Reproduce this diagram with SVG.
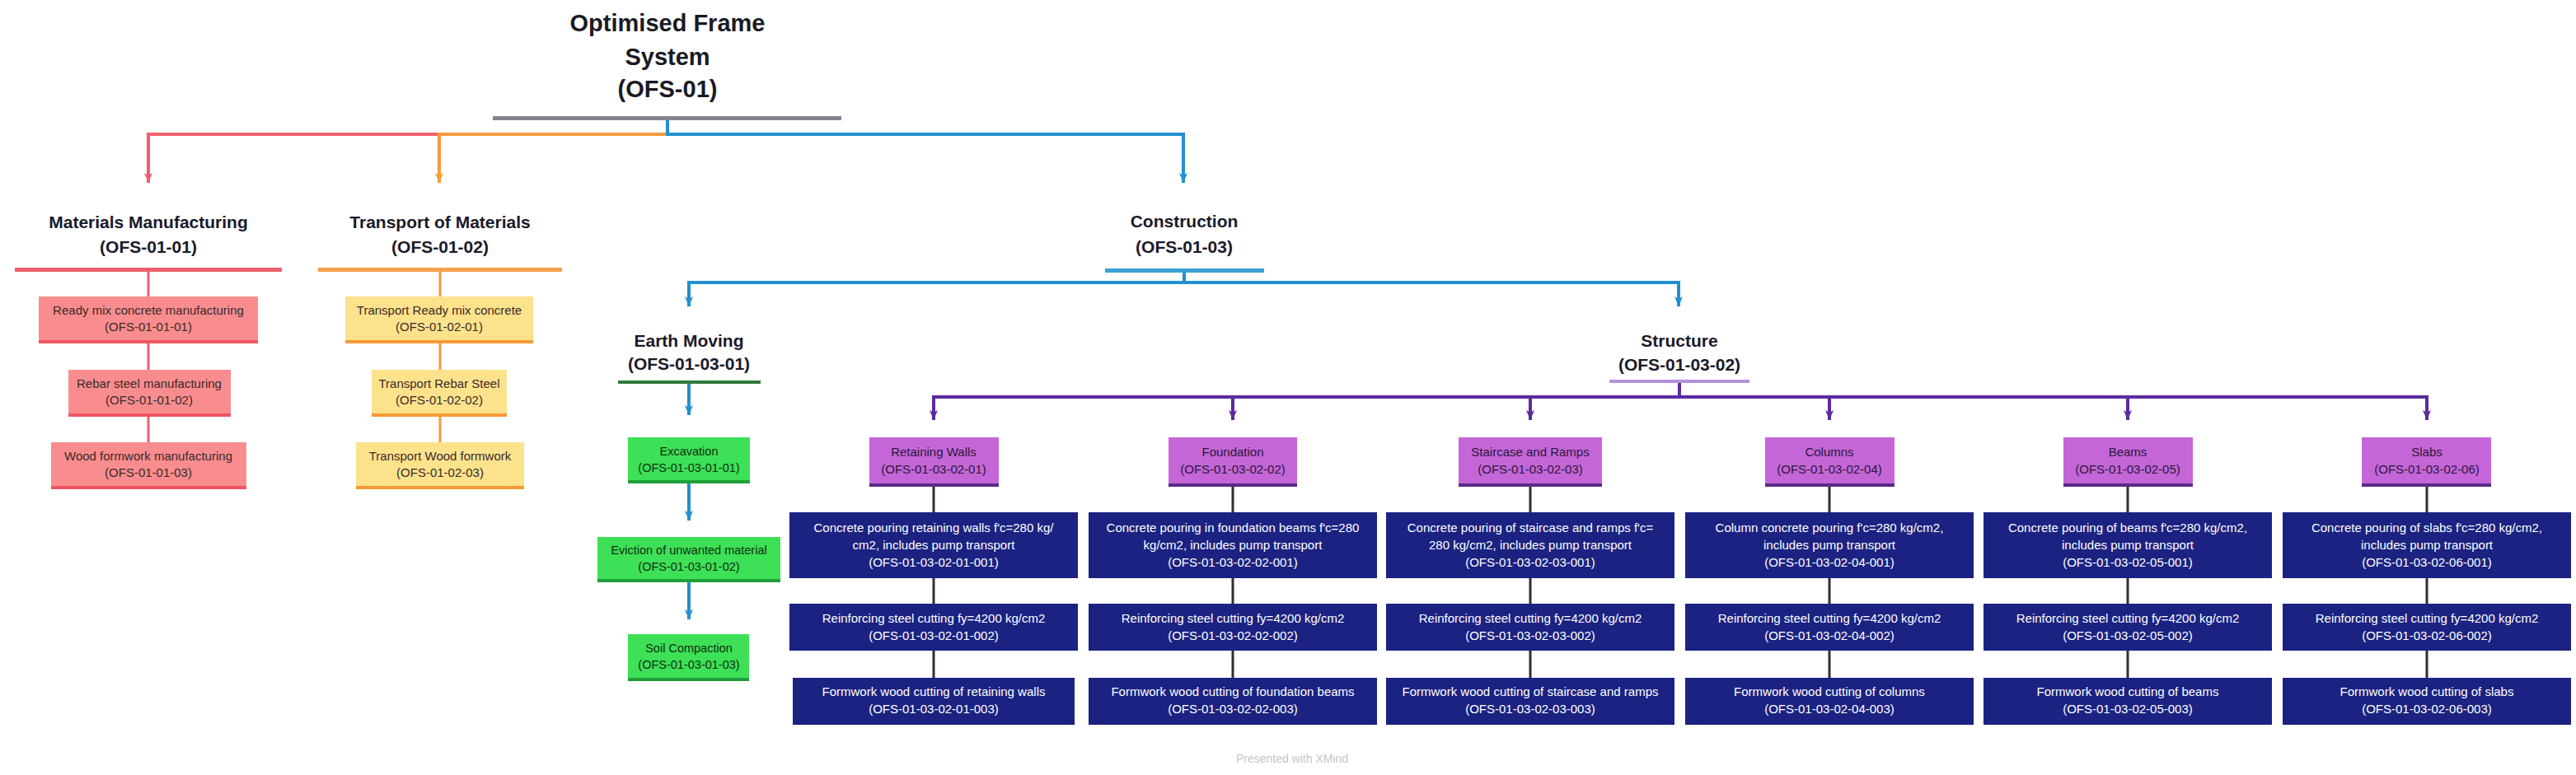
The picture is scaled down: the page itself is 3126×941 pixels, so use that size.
<svg xmlns="http://www.w3.org/2000/svg" width="3126" height="941" viewBox="0 0 3126 941">
<defs>
<style>
text{font-family:"Liberation Sans",Arial,sans-serif;text-anchor:middle}
.h0{font-size:29px;font-weight:bold;fill:#1a1a24}
.h1{font-size:21px;font-weight:bold;fill:#1a1a2a}
.sm{font-size:15px;fill:#3a2a2a}
.hd{font-size:15px;fill:#2a1838}
.gr{font-size:14.5px;fill:#10300f}
.dk{font-size:15px;fill:#ffffff}
.foot{font-size:14px;fill:#c4c4c4}
.red{fill:#f98c8e}
.redb{fill:#ee5560}
.yel{fill:#fde28c}
.yelb{fill:#f59a35}
.grn{fill:#3de057}
.grnb{fill:#20a03a}
.pur{fill:#c466d8}
.purb{fill:#5a2a88}
.nav{fill:#1c2282}
.c-red{stroke:#f0606a;stroke-width:4;fill:none}
.c-org{stroke:#f59a3c;stroke-width:4;fill:none}
.c-blu{stroke:#2290d0;stroke-width:4;fill:none}
.c-pur{stroke:#5e2aa0;stroke-width:4;fill:none}
.c-dk{stroke:#2e2e3c;stroke-width:3;fill:none}
.c-redt{stroke:#f0606a;stroke-width:3;fill:none}
.c-orgt{stroke:#f59a3c;stroke-width:3;fill:none}
</style>
<marker id="aRed" viewBox="0 0 12 10" refX="12" refY="5" markerWidth="12" markerHeight="10" markerUnits="userSpaceOnUse" orient="auto"><path d="M0,0 L12,5 L0,10 L3,5 z" fill="#f0606a"/></marker>
<marker id="aOrg" viewBox="0 0 12 10" refX="12" refY="5" markerWidth="12" markerHeight="10" markerUnits="userSpaceOnUse" orient="auto"><path d="M0,0 L12,5 L0,10 L3,5 z" fill="#f59a3c"/></marker>
<marker id="aBlu" viewBox="0 0 12 10" refX="12" refY="5" markerWidth="12" markerHeight="10" markerUnits="userSpaceOnUse" orient="auto"><path d="M0,0 L12,5 L0,10 L3,5 z" fill="#2290d0"/></marker>
<marker id="aPur" viewBox="0 0 12 10" refX="12" refY="5" markerWidth="12" markerHeight="10" markerUnits="userSpaceOnUse" orient="auto"><path d="M0,0 L12,5 L0,10 L3,5 z" fill="#5e2aa0"/></marker>
</defs>
<rect width="3126" height="941" fill="#ffffff"/>

<g id="connectors">
<path class="c-blu" d="M810,146 V163"/>
<path class="c-red" d="M533,163 H180 V222" marker-end="url(#aRed)"/>
<path class="c-org" d="M810,163 H533 V222" marker-end="url(#aOrg)"/>
<path class="c-blu" d="M808,163 H1436 V222" marker-end="url(#aBlu)"/>
<path class="c-redt" d="M180,329 V360 M180,417 V449 M180,506 V537"/>
<path class="c-orgt" d="M534,329 V360 M534,417 V449 M534,506 V537"/>
<path class="c-blu" d="M1437,330 V343"/>
<path class="c-blu" d="M1437,343 H836 V372" marker-end="url(#aBlu)"/>
<path class="c-blu" d="M1437,343 H2037 V372" marker-end="url(#aBlu)"/>
<path class="c-blu" d="M836,466 V504" marker-end="url(#aBlu)"/>
<path class="c-blu" d="M836,587 V632" marker-end="url(#aBlu)"/>
<path class="c-blu" d="M836,707 V752" marker-end="url(#aBlu)"/>
<path class="c-pur" d="M2038,465 V482"/>
<path class="c-pur" d="M1131,482 H2947"/>
<path class="c-pur" d="M1133,482 V510" marker-end="url(#aPur)"/>
<path class="c-pur" d="M1496,482 V510" marker-end="url(#aPur)"/>
<path class="c-pur" d="M1857,482 V510" marker-end="url(#aPur)"/>
<path class="c-pur" d="M2220,482 V510" marker-end="url(#aPur)"/>
<path class="c-pur" d="M2582,482 V510" marker-end="url(#aPur)"/>
<path class="c-pur" d="M2945,482 V510" marker-end="url(#aPur)"/>
<path class="c-dk" d="M1133,591 V622 M1133,702 V733 M1133,790 V823"/>
<path class="c-dk" d="M1496,591 V622 M1496,702 V733 M1496,790 V823"/>
<path class="c-dk" d="M1857,591 V622 M1857,702 V733 M1857,790 V823"/>
<path class="c-dk" d="M2220,591 V622 M2220,702 V733 M2220,790 V823"/>
<path class="c-dk" d="M2582,591 V622 M2582,702 V733 M2582,790 V823"/>
<path class="c-dk" d="M2945,591 V622 M2945,702 V733 M2945,790 V823"/>
</g>

<g id="n-root">
<text class="h0" x="810" y="38">Optimised Frame</text>
<text class="h0" x="810" y="79">System</text>
<text class="h0" x="810" y="118">(OFS-01)</text>
<rect x="598" y="141" width="423" height="5" fill="#85858f"/>
</g>

<g id="n-mat">
<text class="h1" x="180" y="277">Materials Manufacturing</text>
<text class="h1" x="180" y="307">(OFS-01-01)</text>
<rect x="18" y="325" width="324" height="5" fill="#f0606a"/>
</g>
<g id="n-mat-1"><rect class="red" x="47" y="360" width="266" height="57"/><rect class="redb" x="47" y="413" width="266" height="4"/>
<text class="sm" x="180" y="382">Ready mix concrete manufacturing</text><text class="sm" x="180" y="402">(OFS-01-01-01)</text></g>
<g id="n-mat-2"><rect class="red" x="83" y="449" width="197" height="57"/><rect class="redb" x="83" y="502" width="197" height="4"/>
<text class="sm" x="181" y="471">Rebar steel manufacturing</text><text class="sm" x="181" y="491">(OFS-01-01-02)</text></g>
<g id="n-mat-3"><rect class="red" x="62" y="537" width="237" height="57"/><rect class="redb" x="62" y="590" width="237" height="4"/>
<text class="sm" x="180" y="559">Wood formwork manufacturing</text><text class="sm" x="180" y="579">(OFS-01-01-03)</text></g>

<g id="n-trn">
<text class="h1" x="534" y="277">Transport of Materials</text>
<text class="h1" x="534" y="307">(OFS-01-02)</text>
<rect x="386" y="325" width="296" height="5" fill="#f5a04a"/>
</g>
<g id="n-trn-1"><rect class="yel" x="419" y="360" width="228" height="57"/><rect class="yelb" x="419" y="413" width="228" height="4"/>
<text class="sm" x="533" y="382">Transport Ready mix concrete</text><text class="sm" x="533" y="402">(OFS-01-02-01)</text></g>
<g id="n-trn-2"><rect class="yel" x="451" y="449" width="164" height="57"/><rect class="yelb" x="451" y="502" width="164" height="4"/>
<text class="sm" x="533" y="471">Transport Rebar Steel</text><text class="sm" x="533" y="491">(OFS-01-02-02)</text></g>
<g id="n-trn-3"><rect class="yel" x="432" y="537" width="204" height="57"/><rect class="yelb" x="432" y="590" width="204" height="4"/>
<text class="sm" x="534" y="559">Transport Wood formwork</text><text class="sm" x="534" y="579">(OFS-01-02-03)</text></g>

<g id="n-con">
<text class="h1" x="1437" y="276">Construction</text>
<text class="h1" x="1437" y="307">(OFS-01-03)</text>
<rect x="1341" y="326" width="193" height="5" fill="#3aa0d8"/>
</g>

<g id="n-earth">
<text class="h1" x="836" y="421">Earth Moving</text>
<text class="h1" x="836" y="449">(OFS-01-03-01)</text>
<rect x="750" y="462" width="173" height="4" fill="#2f7a3a"/>
</g>
<g id="n-earth-1"><rect class="grn" x="762" y="531" width="148" height="56"/><rect class="grnb" x="762" y="583" width="148" height="4"/>
<text class="gr" x="836" y="553">Excavation</text><text class="gr" x="836" y="573">(OFS-01-03-01-01)</text></g>
<g id="n-earth-2"><rect class="grn" x="725" y="652" width="222" height="55"/><rect class="grnb" x="725" y="703" width="222" height="4"/>
<text class="gr" x="836" y="673">Eviction of unwanted material</text><text class="gr" x="836" y="693">(OFS-01-03-01-02)</text></g>
<g id="n-earth-3"><rect class="grn" x="762" y="770" width="147" height="57"/><rect class="grnb" x="762" y="823" width="147" height="4"/>
<text class="gr" x="836" y="792">Soil Compaction</text><text class="gr" x="836" y="812">(OFS-01-03-01-03)</text></g>

<g id="n-str">
<text class="h1" x="2038" y="421">Structure</text>
<text class="h1" x="2038" y="450">(OFS-01-03-02)</text>
<rect x="1953" y="461" width="170" height="4" fill="#b690dc"/>
</g>

<g id="n-rw"><rect class="pur" x="1055" y="531" width="157" height="60"/><rect class="purb" x="1055" y="587" width="157" height="4"/>
<text class="hd" x="1133" y="554">Retaining Walls</text><text class="hd" x="1133" y="575">(OFS-01-03-02-01)</text></g>
<g id="n-fd"><rect class="pur" x="1418" y="531" width="156" height="60"/><rect class="purb" x="1418" y="587" width="156" height="4"/>
<text class="hd" x="1496" y="554">Foundation</text><text class="hd" x="1496" y="575">(OFS-01-03-02-02)</text></g>
<g id="n-sr"><rect class="pur" x="1770" y="531" width="174" height="60"/><rect class="purb" x="1770" y="587" width="174" height="4"/>
<text class="hd" x="1857" y="554">Staircase and Ramps</text><text class="hd" x="1857" y="575">(OFS-01-03-02-03)</text></g>
<g id="n-co"><rect class="pur" x="2142" y="531" width="157" height="60"/><rect class="purb" x="2142" y="587" width="157" height="4"/>
<text class="hd" x="2220" y="554">Columns</text><text class="hd" x="2220" y="575">(OFS-01-03-02-04)</text></g>
<g id="n-bm"><rect class="pur" x="2504" y="531" width="157" height="60"/><rect class="purb" x="2504" y="587" width="157" height="4"/>
<text class="hd" x="2582" y="554">Beams</text><text class="hd" x="2582" y="575">(OFS-01-03-02-05)</text></g>
<g id="n-sl"><rect class="pur" x="2866" y="531" width="157" height="60"/><rect class="purb" x="2866" y="587" width="157" height="4"/>
<text class="hd" x="2945" y="554">Slabs</text><text class="hd" x="2945" y="575">(OFS-01-03-02-06)</text></g>

<g id="n-rw-1"><rect class="nav" x="958" y="622" width="350" height="80"/>
<text class="dk" x="1133" y="646">Concrete pouring retaining walls f'c=280 kg/</text><text class="dk" x="1133" y="667">cm2, includes pump transport</text><text class="dk" x="1133" y="688">(OFS-01-03-02-01-001)</text></g>
<g id="n-rw-2"><rect class="nav" x="958" y="733" width="350" height="57"/>
<text class="dk" x="1133" y="756">Reinforcing steel cutting fy=4200 kg/cm2</text><text class="dk" x="1133" y="777">(OFS-01-03-02-01-002)</text></g>
<g id="n-rw-3"><rect class="nav" x="962" y="823" width="342" height="57"/>
<text class="dk" x="1133" y="845">Formwork wood cutting of retaining walls</text><text class="dk" x="1133" y="866">(OFS-01-03-02-01-003)</text></g>

<g id="n-fd-1"><rect class="nav" x="1321" y="622" width="350" height="80"/>
<text class="dk" x="1496" y="646">Concrete pouring in foundation beams f'c=280</text><text class="dk" x="1496" y="667">kg/cm2, includes pump transport</text><text class="dk" x="1496" y="688">(OFS-01-03-02-02-001)</text></g>
<g id="n-fd-2"><rect class="nav" x="1321" y="733" width="350" height="57"/>
<text class="dk" x="1496" y="756">Reinforcing steel cutting fy=4200 kg/cm2</text><text class="dk" x="1496" y="777">(OFS-01-03-02-02-002)</text></g>
<g id="n-fd-3"><rect class="nav" x="1321" y="823" width="350" height="57"/>
<text class="dk" x="1496" y="845">Formwork wood cutting of foundation beams</text><text class="dk" x="1496" y="866">(OFS-01-03-02-02-003)</text></g>

<g id="n-sr-1"><rect class="nav" x="1682" y="622" width="350" height="80"/>
<text class="dk" x="1857" y="646">Concrete pouring of staircase and ramps f'c=</text><text class="dk" x="1857" y="667">280 kg/cm2, includes pump transport</text><text class="dk" x="1857" y="688">(OFS-01-03-02-03-001)</text></g>
<g id="n-sr-2"><rect class="nav" x="1682" y="733" width="350" height="57"/>
<text class="dk" x="1857" y="756">Reinforcing steel cutting fy=4200 kg/cm2</text><text class="dk" x="1857" y="777">(OFS-01-03-02-03-002)</text></g>
<g id="n-sr-3"><rect class="nav" x="1682" y="823" width="350" height="57"/>
<text class="dk" x="1857" y="845">Formwork wood cutting of staircase and ramps</text><text class="dk" x="1857" y="866">(OFS-01-03-02-03-003)</text></g>

<g id="n-co-1"><rect class="nav" x="2045" y="622" width="350" height="80"/>
<text class="dk" x="2220" y="646">Column concrete pouring  f'c=280 kg/cm2,</text><text class="dk" x="2220" y="667">includes pump transport</text><text class="dk" x="2220" y="688">(OFS-01-03-02-04-001)</text></g>
<g id="n-co-2"><rect class="nav" x="2045" y="733" width="350" height="57"/>
<text class="dk" x="2220" y="756">Reinforcing steel cutting fy=4200 kg/cm2</text><text class="dk" x="2220" y="777">(OFS-01-03-02-04-002)</text></g>
<g id="n-co-3"><rect class="nav" x="2045" y="823" width="350" height="57"/>
<text class="dk" x="2220" y="845">Formwork wood cutting of columns</text><text class="dk" x="2220" y="866">(OFS-01-03-02-04-003)</text></g>

<g id="n-bm-1"><rect class="nav" x="2407" y="622" width="350" height="80"/>
<text class="dk" x="2582" y="646">Concrete pouring of beams f'c=280 kg/cm2,</text><text class="dk" x="2582" y="667">includes pump transport</text><text class="dk" x="2582" y="688">(OFS-01-03-02-05-001)</text></g>
<g id="n-bm-2"><rect class="nav" x="2407" y="733" width="350" height="57"/>
<text class="dk" x="2582" y="756">Reinforcing steel cutting fy=4200 kg/cm2</text><text class="dk" x="2582" y="777">(OFS-01-03-02-05-002)</text></g>
<g id="n-bm-3"><rect class="nav" x="2407" y="823" width="350" height="57"/>
<text class="dk" x="2582" y="845">Formwork wood cutting of beams</text><text class="dk" x="2582" y="866">(OFS-01-03-02-05-003)</text></g>

<g id="n-sl-1"><rect class="nav" x="2770" y="622" width="350" height="80"/>
<text class="dk" x="2945" y="646">Concrete pouring of slabs f'c=280 kg/cm2,</text><text class="dk" x="2945" y="667">includes pump transport</text><text class="dk" x="2945" y="688">(OFS-01-03-02-06-001)</text></g>
<g id="n-sl-2"><rect class="nav" x="2770" y="733" width="350" height="57"/>
<text class="dk" x="2945" y="756">Reinforcing steel cutting fy=4200 kg/cm2</text><text class="dk" x="2945" y="777">(OFS-01-03-02-06-002)</text></g>
<g id="n-sl-3"><rect class="nav" x="2770" y="823" width="350" height="57"/>
<text class="dk" x="2945" y="845">Formwork wood cutting of slabs</text><text class="dk" x="2945" y="866">(OFS-01-03-02-06-003)</text></g>

<text class="foot" x="1568" y="926">Presented with XMind</text>
</svg>
